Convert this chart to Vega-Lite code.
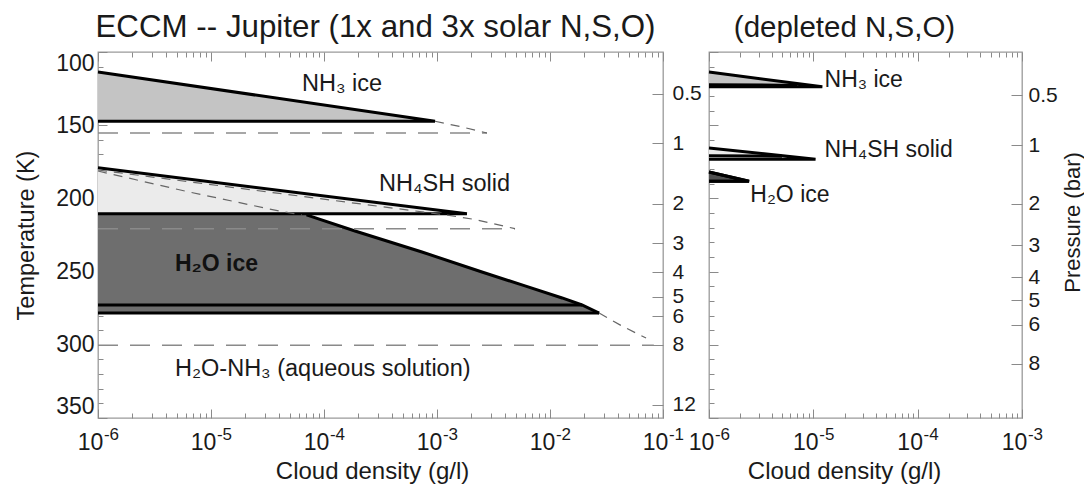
{
  "$schema": "https://vega.github.io/schema/vega-lite/v6.json",
  "autosize": {"type": "pad"},
  "padding": {"left": 13, "top": 11, "right": 0, "bottom": 0},
  "background": "white",
  "bounds": "flush",
  "spacing": 46,
  "config": {
    "font": "Liberation Sans",
    "view": {"stroke": "#9a9a9a", "strokeWidth": 1.3},
    "axis": {"grid": false, "domain": false, "tickColor": "#8a8a8a", "tickWidth": 1, "labelColor": "#1a1a1a", "titleColor": "#1a1a1a", "labelFont": "Liberation Sans", "titleFont": "Liberation Sans", "titleFontWeight": "normal", "labelOverlap": false, "labelBound": false},
    "title": {"font": "Liberation Sans", "fontSize": 30, "fontWeight": "normal", "color": "#1a1a1a", "baseline": "alphabetic", "offset": 8, "anchor": "middle"}
  },
  "datasets": {
    "fills": [
      {"p": "L", "g": "nh3", "d": 1e-6, "T": 113.7, "b": 147.3},
      {"p": "L", "g": "nh3", "d": 9.6e-4, "T": 147.3, "b": 147.3},
      {"p": "L", "g": "nh4sh", "d": 1e-6, "T": 179.0, "b": 210.5},
      {"p": "L", "g": "nh4sh", "d": 1.84e-3, "T": 210.5, "b": 210.5},
      {"p": "L", "g": "h2o", "d": 1e-6, "T": 211.3, "b": 278.3},
      {"p": "L", "g": "h2o", "d": 7.0e-5, "T": 211.3, "b": 278.3},
      {"p": "L", "g": "h2o", "d": 1.88e-4, "T": 222.3, "b": 278.3},
      {"p": "L", "g": "h2o", "d": 7.36e-4, "T": 236.6, "b": 278.3},
      {"p": "L", "g": "h2o", "d": 2.5e-3, "T": 250.3, "b": 278.3},
      {"p": "L", "g": "h2o", "d": 6.01e-3, "T": 259.8, "b": 278.3},
      {"p": "L", "g": "h2o", "d": 1.28e-2, "T": 268.0, "b": 278.3},
      {"p": "L", "g": "h2o", "d": 1.92e-2, "T": 272.8, "b": 278.3},
      {"p": "L", "g": "h2o", "d": 2.72e-2, "T": 278.3, "b": 278.3},
      {"p": "R", "g": "nh3", "d": 1e-6, "T": 113.7, "b": 123.8},
      {"p": "R", "g": "nh3", "d": 1.22e-5, "T": 123.8, "b": 123.8},
      {"p": "R", "g": "nh4sh", "d": 1e-6, "T": 165.6, "b": 173.2},
      {"p": "R", "g": "nh4sh", "d": 1.05e-5, "T": 173.2, "b": 173.2},
      {"p": "R", "g": "h2oR", "d": 1e-6, "T": 182.0, "b": 188.3},
      {"p": "R", "g": "h2oR", "d": 2.42e-6, "T": 188.3, "b": 188.3}
    ],
    "solid": [
      {"p": "L", "id": "nh3", "i": 0, "d": 1e-6, "T": 113.7},
      {"p": "L", "id": "nh3", "i": 1, "d": 9.6e-4, "T": 147.3},
      {"p": "L", "id": "nh3", "i": 2, "d": 1e-6, "T": 147.3},
      {"p": "L", "id": "nh4sh", "i": 0, "d": 1e-6, "T": 179.0},
      {"p": "L", "id": "nh4sh", "i": 1, "d": 1.84e-3, "T": 210.5},
      {"p": "L", "id": "nh4sh", "i": 2, "d": 1e-6, "T": 210.5},
      {"p": "L", "id": "h2otop", "i": 0, "d": 7.0e-5, "T": 211.3},
      {"p": "L", "id": "h2otop", "i": 1, "d": 1.88e-4, "T": 222.3},
      {"p": "L", "id": "h2otop", "i": 2, "d": 7.36e-4, "T": 236.6},
      {"p": "L", "id": "h2otop", "i": 3, "d": 2.5e-3, "T": 250.3},
      {"p": "L", "id": "h2otop", "i": 4, "d": 6.01e-3, "T": 259.8},
      {"p": "L", "id": "h2otop", "i": 5, "d": 1.28e-2, "T": 268.0},
      {"p": "L", "id": "h2otop", "i": 6, "d": 1.92e-2, "T": 272.8},
      {"p": "L", "id": "h2otop", "i": 7, "d": 2.72e-2, "T": 278.3},
      {"p": "L", "id": "h2ob1", "i": 0, "d": 1.92e-2, "T": 272.8},
      {"p": "L", "id": "h2ob1", "i": 1, "d": 1e-6, "T": 272.8},
      {"p": "L", "id": "h2ob2", "i": 0, "d": 2.72e-2, "T": 278.3},
      {"p": "L", "id": "h2ob2", "i": 1, "d": 1e-6, "T": 278.3},
      {"p": "R", "id": "nh3", "i": 0, "d": 1e-6, "T": 113.7},
      {"p": "R", "id": "nh3", "i": 1, "d": 1.22e-5, "T": 123.8},
      {"p": "R", "id": "nh3", "i": 2, "d": 1e-6, "T": 123.8},
      {"p": "R", "id": "nh3in", "i": 0, "d": 1e-6, "T": 122.3},
      {"p": "R", "id": "nh3in", "i": 1, "d": 7e-6, "T": 122.8},
      {"p": "R", "id": "nh4sh", "i": 0, "d": 1e-6, "T": 165.6},
      {"p": "R", "id": "nh4sh", "i": 1, "d": 1.05e-5, "T": 173.2},
      {"p": "R", "id": "nh4sh", "i": 2, "d": 1e-6, "T": 173.2},
      {"p": "R", "id": "nh4in", "i": 0, "d": 1e-6, "T": 170.8},
      {"p": "R", "id": "nh4in", "i": 1, "d": 5.0e-6, "T": 171.2},
      {"p": "R", "id": "h2o", "i": 0, "d": 1e-6, "T": 182.0},
      {"p": "R", "id": "h2o", "i": 1, "d": 2.42e-6, "T": 188.3},
      {"p": "R", "id": "h2o", "i": 2, "d": 1e-6, "T": 188.3}
    ],
    "dashS": [
      {"id": "nh3x", "i": 0, "d": 9.6e-4, "T": 147.3},
      {"id": "nh3x", "i": 1, "d": 1.66e-3, "T": 151.2},
      {"id": "nh3x", "i": 2, "d": 2.77e-3, "T": 155.3},
      {"id": "nh4a", "i": 0, "d": 1e-6, "T": 180.6},
      {"id": "nh4a", "i": 1, "d": 1.28e-3, "T": 211.6},
      {"id": "nh4a", "i": 2, "d": 2.2e-3, "T": 214.5},
      {"id": "nh4a", "i": 3, "d": 4.9e-3, "T": 220.7},
      {"id": "nh4b", "i": 0, "d": 1e-6, "T": 181.3},
      {"id": "nh4b", "i": 1, "d": 6.38e-6, "T": 195.6},
      {"id": "nh4b", "i": 2, "d": 4.0e-5, "T": 208.6},
      {"id": "nh4b", "i": 3, "d": 6.38e-5, "T": 211.3},
      {"id": "h2ox", "i": 0, "d": 2.72e-2, "T": 278.3},
      {"id": "h2ox", "i": 1, "d": 4.34e-2, "T": 287.2},
      {"id": "h2ox", "i": 2, "d": 7.08e-2, "T": 295.4}
    ],
    "dashL": [
      {"id": "l1", "i": 0, "d": 1e-6, "T": 155.3},
      {"id": "l1", "i": 1, "d": 2.77e-3, "T": 155.3},
      {"id": "l2", "i": 0, "d": 1e-6, "T": 220.7},
      {"id": "l2", "i": 1, "d": 4.9e-3, "T": 220.7},
      {"id": "l3", "i": 0, "d": 1e-6, "T": 300.3},
      {"id": "l3", "i": 1, "d": 8.3e-2, "T": 300.3}
    ],
    "labels": [
      {"p": "L", "w": "n", "txt": "NH₃ ice", "d": 6.38e-5, "T": 121.9},
      {"p": "L", "w": "n", "txt": "NH₄SH solid", "d": 3.07e-4, "T": 190.2},
      {"p": "L", "w": "b", "txt": "H₂O ice", "d": 4.8e-6, "T": 244.8},
      {"p": "L", "w": "n", "txt": "H₂O-NH₃ (aqueous solution)", "d": 4.8e-6, "T": 316.5},
      {"p": "R", "w": "n", "txt": "NH₃ ice", "d": 1.28e-5, "T": 119.1},
      {"p": "R", "w": "n", "txt": "NH₄SH solid", "d": 1.28e-5, "T": 166.9},
      {"p": "R", "w": "m", "txt": "H₂O ice", "d": 2.49e-6, "T": 197.7}
    ]
  },
  "hconcat": [
    {
      "width": 565,
      "height": 366,
      "title": {"text": "ECCM -- Jupiter (1x and 3x solar N,S,O)", "dx": -5, "fontSize": 31.3},
      "resolve": {"axis": {"x": "independent", "y": "independent"}},
      "layer": [
        {
          "data": {"name": "fills"},
          "transform": [{"filter": "datum.p == 'L'"}],
          "mark": {"type": "area", "orient": "vertical"},
          "encoding": {
            "x": {"field": "d", "type": "quantitative", "scale": {"type": "log", "domain": [1e-6, 0.1], "nice": false},
              "axis": {"orient": "bottom", "values": [1e-6, 1e-5, 1e-4, 1e-3, 1e-2, 1e-1], "tickSize": -9, "labelExpr": "'10'", "labelFontSize": 23, "labelPadding": 22, "labelOffset": -8, "labelFlush": false, "title": "Cloud density (g/l)", "titleFontSize": 24, "titleX": 274, "titleY": 60, "titleBaseline": "alphabetic"}},
            "y": {"field": "T", "type": "quantitative", "stack": null, "scale": {"domain": [100, 350], "reverse": true, "nice": false, "zero": false},
              "axis": {"orient": "left", "values": [100, 150, 200, 250, 300, 350], "tickSize": -9, "labelFontSize": 23, "labelPadding": 13, "labelFlush": true, "title": "Temperature (K)", "titleFontSize": 23.5, "titleX": -65, "titleY": 183, "titleBaseline": "alphabetic", "titleAngle": 270}},
            "y2": {"field": "b"},
            "color": {"field": "g", "type": "nominal", "scale": {"domain": ["nh3", "nh4sh", "h2o", "h2oR"], "range": ["#c4c4c4", "#ebebeb", "#6e6e6e", "#505050"]}, "legend": null}
          }
        },
        {
          "data": {"name": "solid"},
          "transform": [{"filter": "datum.p == 'L'"}],
          "mark": {"type": "line", "color": "black", "strokeWidth": 3, "strokeJoin": "miter"},
          "encoding": {
            "x": {"field": "d", "type": "quantitative", "scale": {"type": "log", "domain": [1e-6, 0.1], "nice": false},
              "axis": {"orient": "bottom", "values": [2e-6,3e-6,4e-6,5e-6,6e-6,7e-6,8e-6,9e-6,2e-5,3e-5,4e-5,5e-5,6e-5,7e-5,8e-5,9e-5,2e-4,3e-4,4e-4,5e-4,6e-4,7e-4,8e-4,9e-4,0.002,0.003,0.004,0.005,0.006,0.007,0.008,0.009,0.02,0.03,0.04,0.05,0.06,0.07,0.08,0.09], "tickSize": -5, "labels": false, "title": null}},
            "y": {"field": "T", "type": "quantitative", "scale": {"domain": [100, 350], "reverse": true, "nice": false, "zero": false},
              "axis": {"orient": "left", "values": [110,120,130,140,160,170,180,190,210,220,230,240,260,270,280,290,310,320,330,340], "tickSize": -5, "labels": false, "title": null}},
            "detail": {"field": "id"},
            "order": {"field": "i", "type": "quantitative"}
          }
        },
        {
          "data": {"name": "dashL"},
          "mark": {"type": "line", "color": "#8a8a8a", "strokeWidth": 1.5, "strokeDash": [20, 12]},
          "encoding": {
            "x": {"field": "d", "type": "quantitative", "scale": {"type": "log", "domain": [1e-6, 0.1], "nice": false},
              "axis": {"orient": "bottom", "values": [1e-6, 1e-5, 1e-4, 1e-3, 1e-2, 1e-1], "ticks": false, "labelExpr": "'' + round(log(datum.value) / LN10)", "labelFontSize": 17, "labelPadding": 8, "labelOffset": 13, "labelFlush": false, "title": null}},
            "y": {"field": "T", "type": "quantitative", "scale": {"domain": [100, 350], "reverse": true, "nice": false, "zero": false},
              "axis": {"orient": "right", "values": [128.5, 162.2, 203.6, 230.5, 250.3, 267.2, 280.4, 300.1, 341.1], "tickSize": -11, "labelPadding": 20, "labelFontSize": 21, "labelFlush": false, "labelExpr": "datum.value < 140 ? '0.5' : datum.value < 180 ? '1' : datum.value < 215 ? '2' : datum.value < 240 ? '3' : datum.value < 260 ? '4' : datum.value < 274 ? '5' : datum.value < 290 ? '6' : datum.value < 320 ? '8' : '12'", "title": null}},
            "detail": {"field": "id"},
            "order": {"field": "i", "type": "quantitative"}
          }
        },
        {
          "data": {"name": "dashS"},
          "mark": {"type": "line", "color": "#666666", "strokeWidth": 1.2, "strokeDash": [9, 7]},
          "encoding": {
            "x": {"field": "d", "type": "quantitative", "scale": {"type": "log", "domain": [1e-6, 0.1], "nice": false},
              "axis": {"orient": "top", "values": [1e-6, 1e-5, 1e-4, 1e-3, 1e-2, 1e-1], "tickSize": -9, "labels": false, "title": null}},
            "y": {"field": "T", "type": "quantitative", "scale": {"domain": [100, 350], "reverse": true, "nice": false, "zero": false}, "axis": null},
            "detail": {"field": "id"},
            "order": {"field": "i", "type": "quantitative"}
          }
        },
        {
          "data": {"name": "labels"},
          "transform": [{"filter": "datum.p == 'L' && datum.w == 'n'"}],
          "mark": {"type": "text", "align": "left", "baseline": "middle", "fontSize": 23.5, "font": "Liberation Sans", "color": "#1a1a1a"},
          "encoding": {
            "x": {"field": "d", "type": "quantitative", "scale": {"type": "log", "domain": [1e-6, 0.1], "nice": false},
              "axis": {"orient": "top", "values": [2e-6,3e-6,4e-6,5e-6,6e-6,7e-6,8e-6,9e-6,2e-5,3e-5,4e-5,5e-5,6e-5,7e-5,8e-5,9e-5,2e-4,3e-4,4e-4,5e-4,6e-4,7e-4,8e-4,9e-4,0.002,0.003,0.004,0.005,0.006,0.007,0.008,0.009,0.02,0.03,0.04,0.05,0.06,0.07,0.08,0.09], "tickSize": -5, "labels": false, "title": null}},
            "y": {"field": "T", "type": "quantitative", "scale": {"domain": [100, 350], "reverse": true, "nice": false, "zero": false}, "axis": null},
            "text": {"field": "txt"}
          }
        },
        {
          "data": {"name": "labels"},
          "transform": [{"filter": "datum.p == 'L' && datum.w == 'b'"}],
          "mark": {"type": "text", "align": "left", "baseline": "middle", "fontSize": 23, "fontWeight": "bold", "font": "Liberation Sans", "color": "#111111"},
          "encoding": {
            "x": {"field": "d", "type": "quantitative", "scale": {"type": "log", "domain": [1e-6, 0.1], "nice": false}, "axis": null},
            "y": {"field": "T", "type": "quantitative", "scale": {"domain": [100, 350], "reverse": true, "nice": false, "zero": false}, "axis": null},
            "text": {"field": "txt"}
          }
        }
      ]
    },
    {
      "width": 313,
      "height": 366,
      "title": {"text": "(depleted N,S,O)", "dx": -21, "fontSize": 29.5},
      "resolve": {"axis": {"x": "independent", "y": "independent"}},
      "layer": [
        {
          "data": {"name": "fills"},
          "transform": [{"filter": "datum.p == 'R'"}],
          "mark": {"type": "area", "orient": "vertical"},
          "encoding": {
            "x": {"field": "d", "type": "quantitative", "scale": {"type": "log", "domain": [1e-6, 1e-3], "nice": false},
              "axis": {"orient": "bottom", "values": [1e-6, 1e-5, 1e-4, 1e-3], "tickSize": -9, "labelExpr": "'10'", "labelFontSize": 23, "labelPadding": 22, "labelOffset": -8, "labelFlush": false, "title": "Cloud density (g/l)", "titleFontSize": 24, "titleX": 135, "titleY": 60, "titleBaseline": "alphabetic"}},
            "y": {"field": "T", "type": "quantitative", "stack": null, "scale": {"domain": [100, 350], "reverse": true, "nice": false, "zero": false},
              "axis": {"orient": "left", "values": [100, 150, 200, 250, 300, 350], "tickSize": -9, "labels": false, "title": null}},
            "y2": {"field": "b"},
            "color": {"field": "g", "type": "nominal", "scale": {"domain": ["nh3", "nh4sh", "h2o", "h2oR"], "range": ["#c4c4c4", "#ebebeb", "#6e6e6e", "#505050"]}, "legend": null}
          }
        },
        {
          "data": {"name": "solid"},
          "transform": [{"filter": "datum.p == 'R'"}],
          "mark": {"type": "line", "color": "black", "strokeWidth": 3, "strokeJoin": "miter"},
          "encoding": {
            "x": {"field": "d", "type": "quantitative", "scale": {"type": "log", "domain": [1e-6, 1e-3], "nice": false},
              "axis": {"orient": "bottom", "values": [2e-6,3e-6,4e-6,5e-6,6e-6,7e-6,8e-6,9e-6,2e-5,3e-5,4e-5,5e-5,6e-5,7e-5,8e-5,9e-5,2e-4,3e-4,4e-4,5e-4,6e-4,7e-4,8e-4,9e-4], "tickSize": -5, "labels": false, "title": null}},
            "y": {"field": "T", "type": "quantitative", "scale": {"domain": [100, 350], "reverse": true, "nice": false, "zero": false},
              "axis": {"orient": "left", "values": [110,120,130,140,160,170,180,190,210,220,230,240,260,270,280,290,310,320,330,340], "tickSize": -5, "labels": false, "title": null}},
            "detail": {"field": "id"},
            "order": {"field": "i", "type": "quantitative"}
          }
        },
        {
          "data": {"name": "labels"},
          "transform": [{"filter": "datum.p == 'R' && datum.w == 'n'"}],
          "mark": {"type": "text", "align": "left", "baseline": "middle", "fontSize": 23, "font": "Liberation Sans", "color": "#1a1a1a"},
          "encoding": {
            "x": {"field": "d", "type": "quantitative", "scale": {"type": "log", "domain": [1e-6, 1e-3], "nice": false},
              "axis": {"orient": "bottom", "values": [1e-6, 1e-5, 1e-4, 1e-3], "ticks": false, "labelExpr": "'' + round(log(datum.value) / LN10)", "labelFontSize": 17, "labelPadding": 8, "labelOffset": 13, "labelFlush": false, "title": null}},
            "y": {"field": "T", "type": "quantitative", "scale": {"domain": [100, 350], "reverse": true, "nice": false, "zero": false},
              "axis": {"orient": "right", "values": [129.6, 163.7, 203.6, 232, 253.7, 269.6, 286.3, 312.9], "tickSize": -11, "labelPadding": 17, "labelFontSize": 21, "labelFlush": false, "labelExpr": "datum.value < 140 ? '0.5' : datum.value < 180 ? '1' : datum.value < 215 ? '2' : datum.value < 243 ? '3' : datum.value < 262 ? '4' : datum.value < 278 ? '5' : datum.value < 300 ? '6' : '8'", "title": "Pressure (bar)", "titleFontSize": 22, "titleAngle": 270, "titleX": 57, "titleY": 170, "titleBaseline": "alphabetic"}},
            "text": {"field": "txt"}
          }
        },
        {
          "data": {"name": "labels"},
          "transform": [{"filter": "datum.p == 'R' && datum.w == 'm'"}],
          "mark": {"type": "text", "align": "left", "baseline": "middle", "fontSize": 23, "font": "Liberation Sans", "color": "#1a1a1a"},
          "encoding": {
            "x": {"field": "d", "type": "quantitative", "scale": {"type": "log", "domain": [1e-6, 1e-3], "nice": false},
              "axis": {"orient": "top", "values": [1e-6, 1e-5, 1e-4, 1e-3], "tickSize": -9, "labels": false, "title": null}},
            "y": {"field": "T", "type": "quantitative", "scale": {"domain": [100, 350], "reverse": true, "nice": false, "zero": false}, "axis": null},
            "text": {"field": "txt"}
          }
        },
        {
          "data": {"name": "solid"},
          "transform": [{"filter": "datum.p == 'R' && datum.id == 'h2o'"}],
          "mark": {"type": "line", "color": "black", "strokeWidth": 3, "strokeJoin": "miter"},
          "encoding": {
            "x": {"field": "d", "type": "quantitative", "scale": {"type": "log", "domain": [1e-6, 1e-3], "nice": false},
              "axis": {"orient": "top", "values": [2e-6,3e-6,4e-6,5e-6,6e-6,7e-6,8e-6,9e-6,2e-5,3e-5,4e-5,5e-5,6e-5,7e-5,8e-5,9e-5,2e-4,3e-4,4e-4,5e-4,6e-4,7e-4,8e-4,9e-4], "tickSize": -5, "labels": false, "title": null}},
            "y": {"field": "T", "type": "quantitative", "scale": {"domain": [100, 350], "reverse": true, "nice": false, "zero": false}, "axis": null},
            "detail": {"field": "id"},
            "order": {"field": "i", "type": "quantitative"}
          }
        }
      ]
    }
  ]
}
